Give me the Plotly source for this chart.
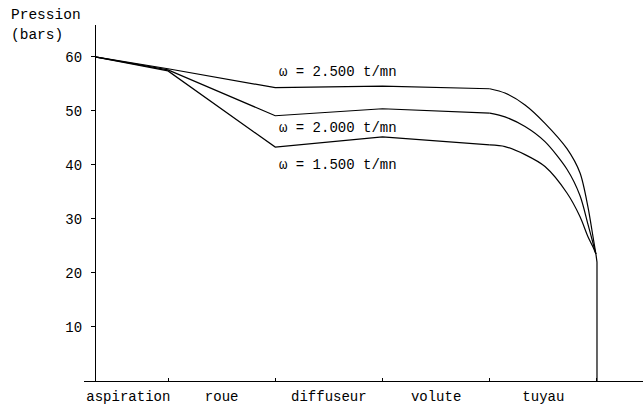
import plotly.graph_objects as go

# Section layout (x units: one unit per pump section)
sections = ["aspiration", "roue", "diffuseur", "volute", "tuyau"]
section_centers = [0.63, 1.5, 2.5, 3.5, 4.5]
section_bounds = [1, 2, 3, 4, 5]

# Pressure curves (bars)
x_pts = [0.32, 1.0, 2.0, 3.0, 4.0, 4.142, 4.329, 4.515, 4.72, 4.842, 4.916, 4.963, 4.99]
p_2500 = [60.0, 57.8, 54.3, 54.6, 54.1, 53.3, 51.1, 47.7, 43.0, 38.5, 32.2, 26.7, 23.5]
p_2000 = [60.0, 57.6, 49.1, 50.4, 49.6, 48.9, 47.1, 44.3, 39.2, 34.3, 29.0, 25.5, 23.5]
p_1500 = [60.0, 57.4, 43.3, 45.2, 43.7, 43.4, 41.9, 39.7, 34.8, 30.4, 26.7, 24.8, 23.5]
outlet_x = [4.99, 5.0, 5.0]
outlet_p = [23.5, 22.0, 0.0]

labels = ["ω = 2.500 t/mn", "ω = 2.000 t/mn", "ω = 1.500 t/mn"]
label_y = [57.2, 46.9, 40.0]

y_ticks = [10, 20, 30, 40, 50, 60]

font_mono = "Liberation Mono, Courier New, monospace"
line = dict(color="black", width=1.2)
n_straight = 5  # points up to the start of the "tuyau" section are joined by straight lines

fig = go.Figure()
for p, name in zip([p_2500, p_2000, p_1500], labels):
    fig.add_trace(go.Scatter(x=x_pts[:n_straight], y=p[:n_straight], mode="lines", line=line,
                             name=name, showlegend=False, hoverinfo="skip"))
    fig.add_trace(go.Scatter(x=x_pts[n_straight - 1:], y=p[n_straight - 1:], mode="lines",
                             line=dict(color="black", width=1.2, shape="spline", smoothing=0.8),
                             name=name, showlegend=False, hoverinfo="skip"))
fig.add_trace(go.Scatter(x=outlet_x, y=outlet_p, mode="lines", line=line,
                         showlegend=False, hoverinfo="skip"))

for txt, yy in zip(labels, label_y):
    fig.add_annotation(x=2.016, y=yy, text=txt, showarrow=False, xanchor="left",
                       yanchor="middle", xref="x", yref="y",
                       font=dict(family=font_mono, size=14, color="black"))

fig.add_annotation(x=-0.134, y=1.028, text="Pression", showarrow=False, xanchor="left",
                   yanchor="middle", xref="paper", yref="paper",
                   font=dict(family=font_mono, size=14.5, color="black"))
fig.add_annotation(x=-0.134, y=0.972, text="(bars)", showarrow=False, xanchor="left",
                   yanchor="middle", xref="paper", yref="paper",
                   font=dict(family=font_mono, size=14.5, color="black"))

fig.update_layout(
    width=643, height=410,
    margin=dict(l=84, r=0, t=25, b=29),
    paper_bgcolor="white", plot_bgcolor="white",
    xaxis=dict(range=[0.2168, 5.429], domain=[0, 1], showgrid=False, zeroline=False,
               showline=True, linecolor="black", linewidth=1.2,
               tickmode="array", tickvals=section_centers, ticktext=sections,
               ticks="outside", ticklen=2, tickcolor="white",
               tickfont=dict(family=font_mono, size=14, color="black"),
               minor=dict(tickmode="array", tickvals=section_bounds, ticks="inside",
                          ticklen=3, tickcolor="black", tickwidth=1.2, showgrid=False)),
    yaxis=dict(range=[0, 65.9], anchor="free", position=0.0197, showgrid=False,
               zeroline=False, showline=True, linecolor="black", linewidth=1.2,
               tickmode="array", tickvals=y_ticks, ticks="outside", ticklen=4,
               tickcolor="black", tickwidth=1.2, ticklabelstandoff=6,
               tickfont=dict(family=font_mono, size=14, color="black")),
)

fig.write_html("out.html")
